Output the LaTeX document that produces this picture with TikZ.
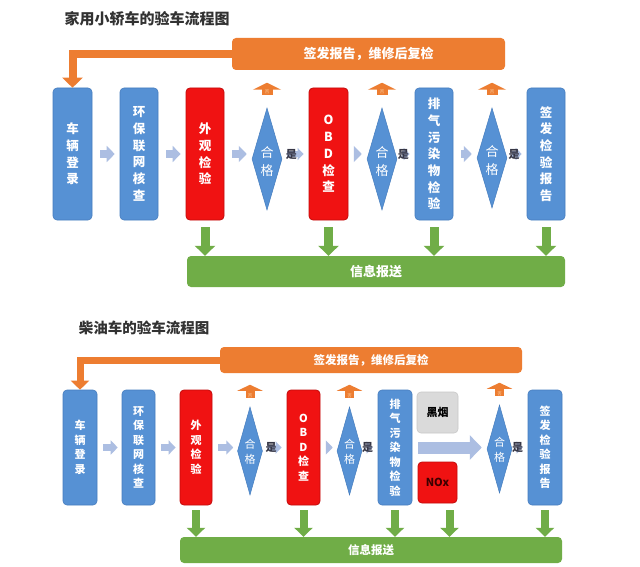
\documentclass[tikz,border=0pt]{standalone}
\usepackage{fontspec}
\setmainfont{Noto Sans CJK SC}
\usetikzlibrary{arrows.meta,shapes.geometric}
\definecolor{bxc}{RGB}{86,145,212}
\definecolor{bxd}{RGB}{70,125,190}
\definecolor{rdc}{RGB}{240,18,18}
\definecolor{rdd}{RGB}{195,10,10}
\definecolor{orc}{RGB}{237,125,49}
\definecolor{grc}{RGB}{112,173,71}
\definecolor{lac}{RGB}{172,190,226}
\definecolor{gyc}{RGB}{218,218,218}
\definecolor{gyd}{RGB}{200,200,200}
\definecolor{ttc}{RGB}{50,50,50}
\definecolor{yesc}{RGB}{55,55,70}
\definecolor{noc}{RGB}{250,205,160}
\definecolor{nxt}{RGB}{60,0,0}
\newcommand\fTitleA{\fontsize{15}{18}\selectfont\bfseries}
\newcommand\fTitleB{\fontsize{14.5}{18}\selectfont\bfseries}
\newcommand\fBoxA{\fontsize{12.5}{16.7}\selectfont\bfseries}
\newcommand\fBoxB{\fontsize{11}{14.5}\selectfont\bfseries}
\newcommand\fDiaA{\fontsize{13}{18}\selectfont}
\newcommand\fDiaB{\fontsize{11}{15}\selectfont}
\newcommand\fBarA{\fontsize{13}{15}\selectfont\bfseries}
\newcommand\fBarB{\fontsize{11.5}{14}\selectfont\bfseries}
\newcommand\fYes{\fontsize{11}{12}\selectfont\bfseries}
\newcommand\fNo{\fontsize{4.5}{5}\selectfont}
\tikzset{
  boxbase/.style={rounded corners=4pt, inner sep=0pt, text=white, align=center},
  bluebox/.style={boxbase, fill=bxc, draw=bxd, line width=0.6pt},
  redbox/.style={boxbase, fill=rdc, draw=rdd, line width=0.8pt},
  graybox/.style={boxbase, fill=gyc, draw=gyd, line width=0.6pt, text=black},
  dia/.style={diamond, fill=bxc, draw=bxd, line width=0.5pt, inner sep=0pt},
  diatext/.style={text=white, align=center, inner sep=0pt},
  obar/.style={rounded corners=4pt, fill=orc, text=white, inner sep=0pt},
  gbar/.style={rounded corners=4pt, fill=grc, text=white, inner sep=0pt},
  oline/.style={draw=orc, line width=8pt, -{Triangle[length=10pt,width=20pt]}},
  uparr/.style={draw=orc, line width=11pt, -{Triangle[length=7pt,width=28pt]}},
  garr/.style={draw=grc, line width=9pt, -{Triangle[length=10pt,width=20pt]}},
  lar/.style={draw=lac, line width=8pt, -{Triangle[length=8pt,width=16pt]}, shorten <=8pt, shorten >=5pt},
  yesarr/.style={draw=lac, line width=6pt, -{Triangle[length=6pt,width=12pt]}, shorten <=5pt, shorten >=5pt},
  yesn/.style={text=yesc, font=\fYes, inner sep=0pt},
  non/.style={text=noc, font=\fNo, inner sep=0pt},
  titlen/.style={text=ttc, inner sep=0pt}
}
\begin{document}
\begin{tikzpicture}[x=1pt,y=-1pt]
\useasboundingbox (0,0) rectangle (640,567);
\fill[white] (0,0) rectangle (640,567);

% ================= top diagram =================
\node[titlen, font=\fTitleA] (tA) at (147,19) {家用小轿车的验车流程图};

\node[obar, minimum width=273pt, minimum height=32pt, font=\fBarA] (obA) at (368.5,54) {签发报告，维修后复检};

\node[bluebox, minimum width=39pt, minimum height=132pt, font=\fBoxA] (a1) at (72.5,154) {车\\辆\\登\\录};
\node[bluebox, minimum width=38pt, minimum height=132pt, font=\fBoxA] (a2) at (139,154) {环\\保\\联\\网\\核\\查};
\node[redbox, minimum width=38pt, minimum height=132pt, font=\fBoxA] (a3) at (205,154) {外\\观\\检\\验};
\node[dia, minimum width=30pt, minimum height=102pt] (ad1) at (267,159) {};
\node[diatext, font=\fDiaA] (at1) at (267,162) {合\\格};
\node[redbox, minimum width=39pt, minimum height=132pt, font=\fBoxA] (a4) at (328.5,154) {O\\B\\D\\检\\查};
\node[dia, minimum width=30pt, minimum height=102pt] (ad2) at (382,159) {};
\node[diatext, font=\fDiaA] (at2) at (382,162) {合\\格};
\node[bluebox, minimum width=38pt, minimum height=132pt, font=\fBoxA] (a5) at (434,154) {排\\气\\污\\染\\物\\检\\验};
\node[dia, minimum width=30pt, minimum height=100pt] (ad3) at (492,158) {};
\node[diatext, font=\fDiaA] (at3) at (492,161) {合\\格};
\node[bluebox, minimum width=38pt, minimum height=132pt, font=\fBoxA] (a6) at (546,154) {签\\发\\检\\验\\报\\告};

\node[gbar, minimum width=378pt, minimum height=31pt, font=\fBarA] (gbA) at (376,271.5) {信息报送};

\draw[oline] (obA.west) -| (a1.north);

\draw[lar] (a1) -- (a2);
\draw[lar] (a2) -- (a3);
\draw[lar] (a3.east) -- (ad1.west |- a3.east);
\draw[yesarr] (ad1.east |- a4.west) -- node[yesn, pos=0.35] (ya1) {是} (a4.west);
\draw[lar] (a4.east) -- (ad2.west |- a4.east);
\draw[yesarr] (ad2.east |- a5.west) -- node[yesn, pos=0.35] (ya2) {是} (a5.west);
\draw[lar] (a5.east) -- (ad3.west |- a5.east);
\draw[yesarr] (ad3.east |- a6.west) -- node[yesn, pos=0.35] (ya3) {是} (a6.west);

\foreach \d/\n in {ad1/na1, ad2/na2, ad3/na3}{
  \draw[uparr] ([yshift=13pt]\d.north) -- ([yshift=25pt]\d.north);
  \node[non] (\n) at ([yshift=15.5pt]\d.north) {否};
}

\foreach \b in {a3,a4,a5,a6}{
  \draw[garr, shorten <=7pt] (\b.south) -- (\b.south |- gbA.north);
}

% ================= bottom diagram =================
\node[titlen, font=\fTitleB] (tB) at (144,328) {柴油车的验车流程图};

\node[obar, minimum width=302pt, minimum height=26pt, font=\fBarB] (obB) at (371,360) {签发报告，维修后复检};

\node[bluebox, minimum width=34pt, minimum height=115pt, font=\fBoxB] (c1) at (80,447.5) {车\\辆\\登\\录};
\node[bluebox, minimum width=33pt, minimum height=115pt, font=\fBoxB] (c2) at (138.5,447.5) {环\\保\\联\\网\\核\\查};
\node[redbox, minimum width=32pt, minimum height=115pt, font=\fBoxB] (c3) at (196,447.5) {外\\观\\检\\验};
\node[dia, minimum width=25pt, minimum height=88pt] (cd1) at (250,451) {};
\node[diatext, font=\fDiaB] (ct1) at (250,452) {合\\格};
\node[redbox, minimum width=33pt, minimum height=115pt, font=\fBoxB] (c4) at (303.5,447.5) {O\\B\\D\\检\\查};
\node[dia, minimum width=25pt, minimum height=88pt] (cd2) at (349.5,451) {};
\node[diatext, font=\fDiaB] (ct2) at (349.5,452) {合\\格};
\node[bluebox, minimum width=34pt, minimum height=115pt, font=\fBoxB] (c5) at (395,447.5) {排\\气\\污\\染\\物\\检\\验};
\node[graybox, minimum width=41pt, minimum height=41pt, font=\fBoxB] (hy) at (437.5,412.5) {黑烟};
\node[redbox, minimum width=39pt, minimum height=41pt, font=\fBoxB, text=nxt] (nx) at (437.5,482.5) {NOx};
\node[dia, minimum width=25pt, minimum height=88pt] (cd3) at (499.5,449) {};
\node[diatext, font=\fDiaB] (ct3) at (499.5,450) {合\\格};
\node[bluebox, minimum width=34pt, minimum height=115pt, font=\fBoxB] (c6) at (545,447.5) {签\\发\\检\\验\\报\\告};

\node[gbar, minimum width=382pt, minimum height=26pt, font=\fBarB] (gbB) at (371,550) {信息报送};

\draw[oline, line width=7pt, -{Triangle[length=9pt,width=18pt]}] (obB.west) -| (c1.north);

\begin{scope}[lar/.append style={line width=7pt, -{Triangle[length=7pt,width=14pt]}, shorten <=6pt, shorten >=4pt}]
\draw[lar] (c1.east) -- (c2.west);
\draw[lar] (c2.east) -- (c3.west);
\draw[lar] (c3.east) -- (cd1.west |- c3.east);
\draw[lar] (c4.east) -- (cd2.west |- c4.east);
\end{scope}
\draw[yesarr] (cd1.east |- c4.west) -- node[yesn, pos=0.35] (yc1) {是} (c4.west);
\draw[yesarr] (cd2.east |- c5.west) -- node[yesn, pos=0.35] (yc2) {是} (c5.west);
\draw[yesarr] (cd3.east |- c6.west) -- node[yesn, pos=0.35] (yc3) {是} (c6.west);
\draw[lar, line width=12pt, -{Triangle[length=12pt,width=24pt]}, shorten <=6pt, shorten >=5pt] (c5.east) -- (cd3.west |- c5.east);

\foreach \d/\n in {cd1/nc1, cd2/nc2, cd3/nc3}{
  \draw[uparr, line width=9pt, -{Triangle[length=6pt,width=25pt]}] ([yshift=9pt]\d.north) -- ([yshift=22pt]\d.north);
  \node[non] (\n) at ([yshift=11pt]\d.north) {否};
}

\foreach \b in {c3,c4,c5,c6}{
  \draw[garr, line width=8pt, -{Triangle[length=9pt,width=18pt]}, shorten <=5pt] (\b.south) -- (\b.south |- gbB.north);
}
\draw[garr, line width=8pt, -{Triangle[length=9pt,width=18pt]}, shorten <=7pt] ([xshift=12pt]nx.south) -- ([xshift=12pt]nx.south |- gbB.north);
\end{tikzpicture}
\end{document}
